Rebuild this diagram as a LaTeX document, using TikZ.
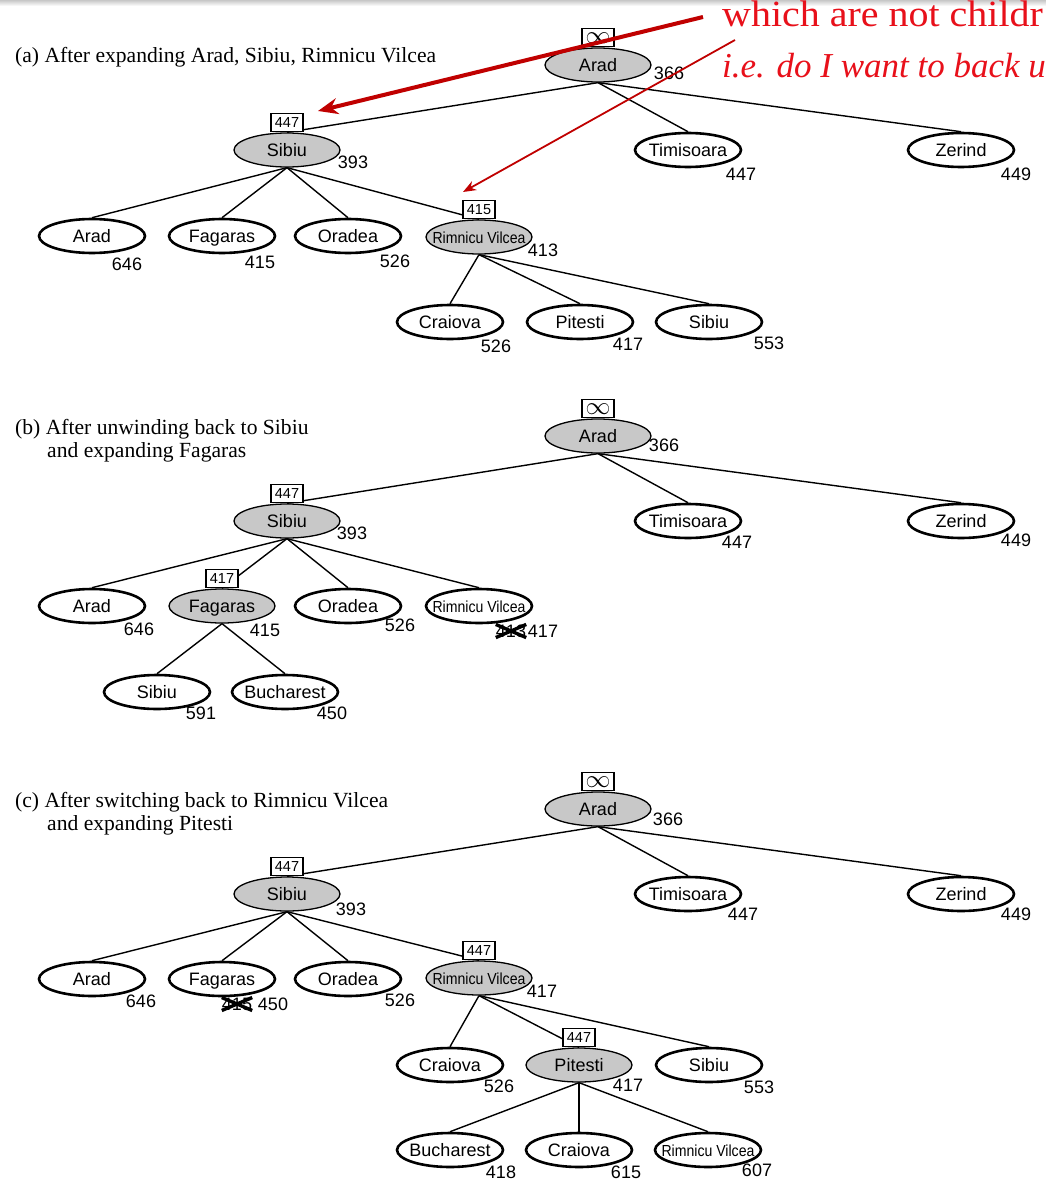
\documentclass[tikz,border=0pt]{standalone}
\usepackage{fontspec}
\setmainfont{Liberation Serif}
\setsansfont{Liberation Sans}
\usetikzlibrary{shapes.geometric,arrows.meta,backgrounds}
\definecolor{nodegrey}{RGB}{200,200,200}
\definecolor{arrowred}{RGB}{192,0,0}
\definecolor{notered}{RGB}{232,16,26}
\newcommand\nm[1]{\makebox[0pt]{#1}}
\newcommand\rv{\makebox[0pt]{\fontsize{16}{16}\selectfont\scalebox{0.88}[1]{Rimnicu Vilcea}}}
\newcommand\infval{\fontsize{23}{23}\selectfont$\infty$}
\tikzset{
  tn/.style={ellipse, minimum width=106, minimum height=34, inner sep=0,
    text height=13, text depth=0, font=\sffamily\fontsize{18}{18}\selectfont},
  wn/.style={tn, draw, line width=2.6, fill=white},
  gn/.style={tn, draw, line width=1.3, fill=nodegrey},
  fv/.style={draw, line width=1.2, fill=white, inner sep=0, anchor=south,
    minimum width=32, minimum height=18, font=\sffamily\fontsize{14.5}{14.5}\selectfont},
  cv/.style={font=\sffamily\fontsize{18}{18}\selectfont, inner sep=0},
  edge/.style={line width=1.4},
  cross/.style={line width=3.4, line cap=butt},
  captxt/.style={anchor=base west, inner sep=0, font=\fontsize{21.6}{21.6}\selectfont},
  note/.style={anchor=base west, inner sep=0, text=notered},
}
\begin{document}
\begin{tikzpicture}[x=1pt,y=-1pt]
\useasboundingbox (0,0) rectangle (1046,1180);
\clip (0,0) rectangle (1046,1180);
\begin{scope}[on background layer]
\fill[white] (0,0) rectangle (1046,1180);
% slide header strip
\shade[top color=black!22, bottom color=white] (0,0) rectangle (1046,6);
\end{scope}

% ---------------- (a) ----------------
\node[captxt] (capa) at (15,63) {(a) After expanding Arad, Sibiu, Rimnicu Vilcea};
\node[gn] (aA) at (598,65) {\nm{Arad}};
\node[fv] (aAf) at (aA.north) {\infval};
\node[cv] (aAv) at (669,73) {366};
\node[gn] (aS) at (287,150) {\nm{Sibiu}};
\node[fv] (aSf) at (aS.north) {447};
\node[cv] (aSv) at (353,162) {393};
\node[wn] (aT) at (688,150) {\nm{Timisoara}};
\node[cv] (aTv) at (741,174) {447};
\node[wn] (aZ) at (961,150) {\nm{Zerind}};
\node[cv] (aZv) at (1016,174) {449};
\node[wn] (aA2) at (92,236) {\nm{Arad}};
\node[cv] (aA2v) at (127,264) {646};
\node[wn] (aF) at (222,236) {\nm{Fagaras}};
\node[cv] (aFv) at (260,262) {415};
\node[wn] (aO) at (348,236) {\nm{Oradea}};
\node[cv] (aOv) at (395,261) {526};
\node[gn] (aR) at (479,237) {\rv};
\node[fv] (aRf) at (aR.north) {415};
\node[cv] (aRv) at (543,250) {413};
\node[wn] (aC) at (450,322) {\nm{Craiova}};
\node[cv] (aCv) at (496,346) {526};
\node[wn] (aP) at (580,322) {\nm{Pitesti}};
\node[cv] (aPv) at (628,344) {417};
\node[wn] (aS2) at (709,322) {\nm{Sibiu}};
\node[cv] (aS2v) at (769,343) {553};
\begin{scope}[on background layer]
\draw[edge] (aA.south) -- (aS.north);
\draw[edge] (aA.south) -- (aT.north);
\draw[edge] (aA.south) -- (aZ.north);
\draw[edge] (aS.south) -- (aA2.north);
\draw[edge] (aS.south) -- (aF.north);
\draw[edge] (aS.south) -- (aO.north);
\draw[edge] (aS.south) -- (aR.north);
\draw[edge] (aR.south) -- (aC.north);
\draw[edge] (aR.south) -- (aP.north);
\draw[edge] (aR.south) -- (aS2.north);
\end{scope}

% ---------------- (b) ----------------
\node[captxt] (capb1) at (15,434) {(b) After unwinding back to Sibiu};
\node[captxt] (capb2) at (47,457) {and expanding Fagaras};
\node[gn] (bA) at (598,436) {\nm{Arad}};
\node[fv] (bAf) at (bA.north) {\infval};
\node[cv] (bAv) at (664,445) {366};
\node[gn] (bS) at (287,521) {\nm{Sibiu}};
\node[fv] (bSf) at (bS.north) {447};
\node[cv] (bSv) at (352,533) {393};
\node[wn] (bT) at (688,521) {\nm{Timisoara}};
\node[cv] (bTv) at (737,542) {447};
\node[wn] (bZ) at (961,521) {\nm{Zerind}};
\node[cv] (bZv) at (1016,540) {449};
\node[wn] (bA2) at (92,606) {\nm{Arad}};
\node[cv] (bA2v) at (139,629) {646};
\node[gn] (bF) at (222,606) {\nm{Fagaras}};
\node[fv] (bFf) at (bF.north) {417};
\node[cv] (bFv) at (265,630) {415};
\node[wn] (bO) at (348,606) {\nm{Oradea}};
\node[cv] (bOv) at (400,625) {526};
\node[wn] (bR) at (479,606) {\rv};
\node[cv] (bRo) at (511,631) {413};
\node[cv] (bRv) at (543,631) {417};
\draw[cross] (bRo.north west) -- (bRo.south east);
\draw[cross] (bRo.south west) -- (bRo.north east);
\node[wn] (bS2) at (157,692) {\nm{Sibiu}};
\node[cv] (bS2v) at (201,713) {591};
\node[wn] (bB) at (285,692) {\nm{Bucharest}};
\node[cv] (bBv) at (332,713) {450};
\begin{scope}[on background layer]
\draw[edge] (bA.south) -- (bS.north);
\draw[edge] (bA.south) -- (bT.north);
\draw[edge] (bA.south) -- (bZ.north);
\draw[edge] (bS.south) -- (bA2.north);
\draw[edge] (bS.south) -- (bF.north);
\draw[edge] (bS.south) -- (bO.north);
\draw[edge] (bS.south) -- (bR.north);
\draw[edge] (bF.south) -- (bS2.north);
\draw[edge] (bF.south) -- (bB.north);
\end{scope}

% ---------------- (c) ----------------
\node[captxt] (capc1) at (15,807) {(c) After switching back to Rimnicu Vilcea};
\node[captxt] (capc2) at (47,830) {and expanding Pitesti};
\node[gn] (cA) at (598,809) {\nm{Arad}};
\node[fv] (cAf) at (cA.north) {\infval};
\node[cv] (cAv) at (668,819) {366};
\node[gn] (cS) at (287,894) {\nm{Sibiu}};
\node[fv] (cSf) at (cS.north) {447};
\node[cv] (cSv) at (351,909) {393};
\node[wn] (cT) at (688,894) {\nm{Timisoara}};
\node[cv] (cTv) at (743,914) {447};
\node[wn] (cZ) at (961,894) {\nm{Zerind}};
\node[cv] (cZv) at (1016,914) {449};
\node[wn] (cA2) at (92,979) {\nm{Arad}};
\node[cv] (cA2v) at (141,1001) {646};
\node[wn] (cF) at (222,979) {\nm{Fagaras}};
\node[cv] (cFo) at (237,1004) {415};
\node[cv] (cFv) at (273,1004) {450};
\draw[cross] (cFo.north west) -- (cFo.south east);
\draw[cross] (cFo.south west) -- (cFo.north east);
\node[wn] (cO) at (348,979) {\nm{Oradea}};
\node[cv] (cOv) at (400,1000) {526};
\node[gn] (cR) at (479,978) {\rv};
\node[fv] (cRf) at (cR.north) {447};
\node[cv] (cRv) at (542,991) {417};
\node[wn] (cC) at (450,1065) {\nm{Craiova}};
\node[cv] (cCv) at (499,1086) {526};
\node[gn] (cP) at (579,1065) {\nm{Pitesti}};
\node[fv] (cPf) at (cP.north) {447};
\node[cv] (cPv) at (628,1085) {417};
\node[wn] (cS2) at (709,1065) {\nm{Sibiu}};
\node[cv] (cS2v) at (759,1087) {553};
\node[wn] (cB) at (450,1150) {\nm{Bucharest}};
\node[cv] (cBv) at (501,1172) {418};
\node[wn] (cC2) at (579,1150) {\nm{Craiova}};
\node[cv] (cC2v) at (626,1172) {615};
\node[wn] (cR2) at (708,1150) {\rv};
\node[cv] (cR2v) at (757,1170) {607};
\begin{scope}[on background layer]
\draw[edge] (cA.south) -- (cS.north);
\draw[edge] (cA.south) -- (cT.north);
\draw[edge] (cA.south) -- (cZ.north);
\draw[edge] (cS.south) -- (cA2.north);
\draw[edge] (cS.south) -- (cF.north);
\draw[edge] (cS.south) -- (cO.north);
\draw[edge] (cS.south) -- (cR.north);
\draw[edge] (cR.south) -- (cC.north);
\draw[edge] (cR.south) -- (cP.north);
\draw[edge] (cR.south) -- (cS2.north);
\draw[edge] (cP.south) -- (cB.north);
\draw[edge] (cP.south) -- (cC2.north);
\draw[edge] (cP.south) -- (cR2.north);
\end{scope}

% ---------------- annotation ----------------
\node[note, font=\fontsize{37}{37}\selectfont] (n1) at (722,27)
  {\scalebox{1.08}[1]{which are not childr}};
\node[note, font=\itshape\fontsize{35}{35}\selectfont] (n2) at (722,78)
  {i.e. do I want to back u};
\coordinate (p1) at (703,17);
\coordinate (q1) at (318,111);
\coordinate (p2) at (735,40);
\coordinate (q2) at (463,192);
\draw[arrowred, line width=4, -{Stealth[length=20,width=16]}] (p1) -- (q1);
\draw[arrowred, line width=1.8, -{Stealth[length=13,width=10]}] (p2) -- (q2);
\end{tikzpicture}
\end{document}
